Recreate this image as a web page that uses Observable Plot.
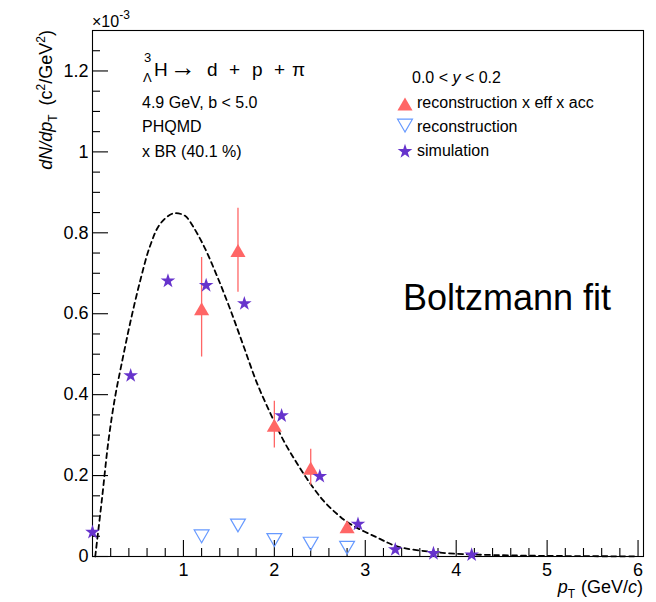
<!DOCTYPE html>
<html>
<head>
<meta charset="utf-8">
<script src="https://cdn.jsdelivr.net/npm/d3@7"></script>
<script src="https://cdn.jsdelivr.net/npm/@observablehq/plot@0.6"></script>
<style>
  html, body { margin: 0; padding: 0; background: white; }
  #chart { width: 656px; height: 602px; }
</style>
</head>
<body>
<div id="chart"></div>
<script>
// ---- data (values in units of 1e-3) ----
const simPt  = [0.0, 0.42, 0.83, 1.25, 1.67, 2.08, 2.5, 2.92, 3.33, 3.75, 4.17];
const simVal = [0.060, 0.447, 0.681, 0.670, 0.625, 0.348, 0.198, 0.080, 0.017, 0.0075, 0.004];

const recoPt = [1.2, 1.6, 2.0, 2.4, 2.8];
const recoCorrVal = [0.607, 0.751, 0.319, 0.213, 0.068];
const recoCorrLo  = [0.493, 0.653, 0.268, 0.176, 0.062];
const recoCorrHi  = [0.739, 0.861, 0.384, 0.265, 0.076];
const recoVal     = [0.055, 0.082, 0.046, 0.037, 0.027];

const fitPt  = [0.03, 0.102, 0.176, 0.249, 0.322, 0.414, 0.524, 0.634, 0.744, 0.89, 1.018, 1.077, 1.223, 1.37, 1.516, 1.663, 1.81, 1.956, 2.10, 2.25, 2.396, 2.54, 2.69, 2.835, 3.13, 3.35, 3.71, 4.08, 4.81, 6.0];
const fitVal = [0.0, 0.138, 0.287, 0.395, 0.478, 0.577, 0.681, 0.768, 0.822, 0.848, 0.842, 0.826, 0.768, 0.693, 0.610, 0.519, 0.428, 0.354, 0.287, 0.230, 0.180, 0.138, 0.105, 0.080, 0.047, 0.025, 0.012, 0.006, 0.002, 0.0003];

const xMajorTicks = [1, 2, 3, 4, 5, 6];
const xMinorTicks = d3.range(1, 31).map(i => i * 0.2).filter(v => Math.abs(v - Math.round(v)) > 1e-6);
const yMajorTicks = [0, 0.2, 0.4, 0.6, 0.8, 1.0, 1.2];
const yMinorTicks = d3.range(1, 26).map(i => i * 0.05).filter(v => Math.abs(v * 5 - Math.round(v * 5)) > 1e-6);

const red = "#ff6666", blue = "#6699ff", purple = "#6633cc";

const sim = simPt.map((x, i) => ({x, y: simVal[i]}));
const recoCorr = recoPt.map((x, i) => ({x, y: recoCorrVal[i], lo: recoCorrLo[i], hi: recoCorrHi[i]}));
const reco = recoPt.map((x, i) => ({x, y: recoVal[i]}));
const fit = fitPt.map((x, i) => ({x, y: fitVal[i]}));

const FONT = "'Liberation Sans', Arial, Helvetica, sans-serif";

// layout
const W = 656, H = 602, mL = 92, mR = 13, mT = 30, mB = 46;
const plotW = W - mL - mR, plotH = H - mT - mB;
const majorLen = 16, minorLen = 8;

const svg = Plot.plot({
  width: W,
  height: H,
  marginLeft: mL, marginRight: mR, marginTop: mT, marginBottom: mB,
  style: {fontFamily: FONT, background: "white", color: "black", overflow: "visible"},
  x: {domain: [0, 6.06]},
  y: {domain: [0, 1.3]},
  marks: [
    Plot.frame({stroke: "black", strokeWidth: 1.1}),
    // inward ticks
    Plot.ruleX(xMinorTicks, {x: d => d, insetTop: plotH - minorLen, stroke: "black", strokeWidth: 1.1}),
    Plot.ruleX(xMajorTicks, {x: d => d, insetTop: plotH - majorLen, stroke: "black", strokeWidth: 1.1}),
    Plot.ruleY(yMinorTicks, {y: d => d, insetRight: plotW - minorLen, stroke: "black", strokeWidth: 1.1}),
    Plot.ruleY(yMajorTicks, {y: d => d, insetRight: plotW - majorLen, stroke: "black", strokeWidth: 1.1}),
    // tick labels
    Plot.axisX({ticks: xMajorTicks, tickSize: 0, tickPadding: 7, fontSize: 18, label: null, tickFormat: d3.format("")}),
    Plot.axisY({ticks: yMajorTicks, tickSize: 0, tickPadding: 4, fontSize: 18, label: null, tickFormat: d3.format("")}),
    Plot.line(fit, {x: "x", y: "y", stroke: "black", strokeWidth: 1.8, strokeDasharray: "5,4", curve: "catmull-rom"}),
    Plot.ruleX(recoCorr, {x: "x", y1: "lo", y2: "hi", stroke: red, strokeWidth: 1.3}),
    Plot.dot(recoCorr, {x: "x", y: "y", symbol: "triangle", r: 5.6, fill: red, stroke: "none"}),
    Plot.dot(reco, {x: "x", y: "y", symbol: "triangle", rotate: 180, r: 5.5, fill: "none", stroke: blue, strokeWidth: 1.2}),
    Plot.dot(sim, {x: "x", y: "y", symbol: "star", r: 4.6, fill: purple, stroke: "none"}),
    // legend markers
    Plot.dot([0], {frameAnchor: "top-left", dx: 404.5 - mL, dy: 105.7 - mT, symbol: "triangle", r: 5.6, fill: red, stroke: "none"}),
    Plot.dot([0], {frameAnchor: "top-left", dx: 404.5 - mL, dy: 123 - mT, symbol: "triangle", rotate: 180, r: 5.5, fill: "none", stroke: blue, strokeWidth: 1.2}),
    Plot.dot([0], {frameAnchor: "top-left", dx: 404.5 - mL, dy: 151 - mT, symbol: "star", r: 4.6, fill: purple, stroke: "none"})
  ]
});

document.getElementById("chart").appendChild(svg);

// ---- annotations as real text ----
const g = d3.select(svg).append("g").attr("font-family", FONT).attr("fill", "black");
function addText(x, y, parts, opts = {}) {
  const t = g.append("text")
    .attr("x", x).attr("y", y)
    .attr("font-size", opts.size || 16)
    .attr("text-anchor", opts.anchor || "start");
  if (opts.transform) t.attr("transform", opts.transform);
  for (const p of parts) {
    const s = t.append("tspan").text(typeof p === "string" ? p : p.t);
    if (typeof p === "string") continue;
    if (p.dy) s.attr("dy", p.dy);
    if (p.dx) s.attr("dx", p.dx);
    if (p.size) s.attr("font-size", p.size);
    if (p.italic) s.attr("font-style", "italic");
  }
  return t;
}

// exponent
addText(92, 27, ["×10", {t: "-3", size: 12, dy: -8}], {size: 16});

// y title
addText(0, 0, [
  {t: "dN/dp", italic: true},
  {t: "T", size: 12, dy: 5},
  {t: "(c", dy: -5, dx: 9},
  {t: "2", size: 12, dy: -7},
  {t: "/GeV", dy: 7},
  {t: "2", size: 12, dy: -7},
  {t: ")", dy: 7}
], {size: 18, anchor: "end", transform: "translate(52,30) rotate(-90)"});

// x title
addText(643, 593, [
  {t: "p", italic: true},
  {t: "T", size: 12, dy: 5},
  {t: "(GeV/", dy: -5, dx: 6},
  {t: "c", italic: true},
  ")"
], {size: 18, anchor: "end"});

// process title
addText(144, 62, ["3"], {size: 13});
addText(143, 82, ["Λ"], {size: 13});
addText(154, 76, ["H"], {size: 19});
addText(183, 76, ["→"], {size: 26, anchor: "middle"});
addText(207, 76, ["d"], {size: 19});
addText(229, 76, ["+"], {size: 19});
addText(252, 76, ["p"], {size: 19});
addText(274, 76, ["+"], {size: 19});
addText(292, 76, ["π"], {size: 19});

// info text
addText(142, 108, ["4.9 GeV, b < 5.0"], {size: 16});
addText(142, 132, ["PHQMD"], {size: 16});
addText(142, 157, ["x BR (40.1 %)"], {size: 16});

// legend text
addText(412, 83, ["0.0 < ", {t: "y", italic: true}, " < 0.2"], {size: 16});
addText(417, 107.5, ["reconstruction x eff x acc"], {size: 16});
addText(417, 132, ["reconstruction"], {size: 16});
addText(417, 156, ["simulation"], {size: 16});

// fit label
addText(403, 310, ["Boltzmann fit"], {size: 36});
</script>
</body>
</html>
